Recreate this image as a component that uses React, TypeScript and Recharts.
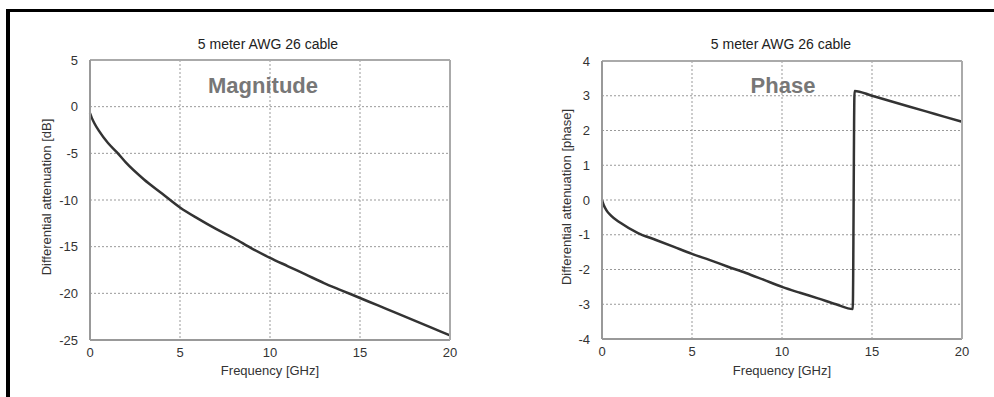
import { CartesianGrid, Line, LineChart, XAxis, YAxis } from 'recharts';

const TITLE = '5 meter AWG 26 cable';
const X_TICKS = [0, 5, 10, 15, 20];

const MAG_FREQ = [0, 0.1, 0.25, 0.5, 1, 1.5, 2, 3, 4, 5, 6, 7, 8, 9, 10, 11, 12, 13, 14, 15, 16, 17, 18, 19, 20];
const MAG_DB = [-0.7, -1.2, -1.8, -2.6, -3.9, -4.9, -6.0, -7.8, -9.3, -10.8, -12.0, -13.1, -14.1, -15.2, -16.2, -17.1, -18.0, -18.9, -19.7, -20.5, -21.3, -22.1, -22.9, -23.7, -24.5];
const MAG_TICKS = [-25, -20, -15, -10, -5, 0, 5];

const PHASE_FREQ = [0, 0.1, 0.25, 0.5, 1, 2, 3, 4, 5, 6, 7, 8, 9, 10, 11, 12, 13, 13.93, 14.03, 15, 16, 17, 18, 19, 20];
const PHASE_VAL = [0, -0.15, -0.3, -0.45, -0.65, -0.95, -1.15, -1.35, -1.55, -1.73, -1.92, -2.1, -2.3, -2.5, -2.67, -2.83, -3.0, -3.14, 3.14, 3.0, 2.85, 2.7, 2.55, 2.4, 2.25];
const PHASE_TICKS = [-4, -3, -2, -1, 0, 1, 2, 3, 4];

const magData = MAG_FREQ.map((f, i) => ({ f, v: MAG_DB[i] }));
const phaseData = PHASE_FREQ.map((f, i) => ({ f, v: PHASE_VAL[i] }));

const FONT = '"Liberation Sans", Arial, sans-serif';
const tickStyle = { fontSize: 13, fill: '#333', fontFamily: FONT };

type Box = { top: number; right: number; bottom: number; left: number };

function Panel({
  data,
  yTicks,
  plot,
  left,
  title,
  label,
  labelX,
  yLabel,
  yLabelX,
  titleX,
}: {
  data: { f: number; v: number }[];
  yTicks: number[];
  plot: Box;
  left: number;
  title: string;
  label: string;
  labelX: number;
  yLabel: string;
  yLabelX: number;
  titleX: number;
}) {
  const domain: [number, number] = [yTicks[0], yTicks[yTicks.length - 1]];
  // axis sizes are taken back out of the margins so the plot box lands on `plot`
  const margin = { top: plot.top - 1, right: plot.right - 1, bottom: plot.bottom - 30, left: plot.left - 40 };
  return (
    <div style={{ position: 'absolute', left, top: 0, width: 497, height: 397 }}>
      <LineChart width={497} height={397} data={data} margin={margin}>
        <CartesianGrid stroke="#999" strokeDasharray="2 2" />
        <XAxis
          dataKey="f"
          type="number"
          domain={[0, 20]}
          ticks={X_TICKS}
          height={30}
          tickLine={false}
          tickMargin={2}
          tick={tickStyle}
          interval={0}
          axisLine={{ stroke: '#999', strokeWidth: 2 }}
        />
        <XAxis xAxisId="top" dataKey="f" type="number" domain={[0, 20]} orientation="top" height={1} tick={false} tickLine={false} axisLine={{ stroke: '#aaa', strokeWidth: 2 }} />
        <YAxis
          type="number"
          domain={domain}
          ticks={yTicks}
          width={40}
          tickLine={false}
          tickMargin={6}
          tick={tickStyle}
          interval={0}
          axisLine={{ stroke: '#999', strokeWidth: 2 }}
        />
        <YAxis yAxisId="right" type="number" domain={domain} orientation="right" width={1} tick={false} tickLine={false} axisLine={{ stroke: '#aaa', strokeWidth: 2 }} />
        <Line type="monotone" dataKey="v" stroke="#333" strokeWidth={2.5} dot={false} isAnimationActive={false} />
      </LineChart>
      <div style={{ position: 'absolute', left: titleX - 120, width: 240, top: 36, textAlign: 'center', fontFamily: FONT, fontSize: 14, color: '#222' }}>{title}</div>
      <div style={{ position: 'absolute', left: labelX - 100, width: 200, top: 73, textAlign: 'center', fontFamily: FONT, fontSize: 22, fontWeight: 'bold', color: '#777' }}>{label}</div>
      <div style={{ position: 'absolute', left: plot.left, width: 360, top: 363, textAlign: 'center', fontFamily: FONT, fontSize: 13, color: '#333' }}>Frequency [GHz]</div>
      <div
        style={{
          position: 'absolute',
          left: yLabelX - 150,
          width: 300,
          top: 189,
          textAlign: 'center',
          fontFamily: FONT,
          fontSize: 13,
          color: '#333',
          transform: 'rotate(-90deg)',
          transformOrigin: '150px 8px',
        }}
      >
        {yLabel}
      </div>
    </div>
  );
}

export default function App() {
  return (
    <div style={{ position: 'absolute', left: 0, top: 0, width: 994, height: 397, background: '#fff', overflow: 'hidden' }}>
      <div style={{ position: 'absolute', left: 6, top: 9, width: 1000, height: 400, borderTop: '3px solid #000', borderLeft: '4px solid #000' }} />
      <Panel
        data={magData}
        yTicks={MAG_TICKS}
        plot={{ top: 60, right: 47, bottom: 57, left: 90 }}
        left={0}
        title={TITLE}
        label="Magnitude"
        labelX={263}
        yLabel="Differential attenuation [dB]"
        yLabelX={47}
        titleX={268}
      />
      <Panel
        data={phaseData}
        yTicks={PHASE_TICKS}
        plot={{ top: 61, right: 32, bottom: 58, left: 105 }}
        left={497}
        title={TITLE}
        label="Phase"
        labelX={286}
        yLabel="Differential attenuation [phase]"
        yLabelX={70}
        titleX={284}
      />
    </div>
  );
}
